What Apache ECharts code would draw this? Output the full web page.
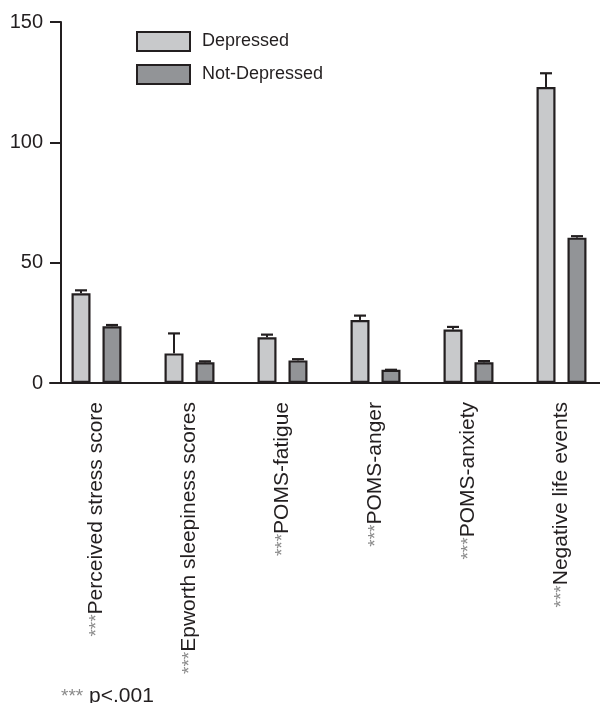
<!DOCTYPE html>
<html>
<head>
<meta charset="utf-8">
<script src="https://cdn.jsdelivr.net/npm/echarts@6/dist/echarts.min.js"></script>
<style>
html,body{margin:0;padding:0;background:#fff;}
#chart{width:600px;height:703px;}
</style>
</head>
<body>
<div id="chart"></div>
<script>
const categories = ['Perceived stress score', 'Epworth sleepiness scores', 'POMS-fatigue', 'POMS-anger', 'POMS-anxiety', 'Negative life events'];
const seriesNames = ['Depressed', 'Not-Depressed'];
const depressed = [37.3, 12.3, 19.0, 26.2, 22.2, 123.0];
const depressedErr = [1.2, 8.3, 1.1, 1.8, 1.1, 5.7];
const notDepressed = [23.6, 8.6, 9.4, 5.5, 8.6, 60.4];
const notDepressedErr = [0.5, 0.4, 0.5, 0, 0.5, 0.6];
const yMin = 0, yMax = 150, yInterval = 50;
const footnote = 'p<.001';

const FONT = '"Liberation Sans", Arial, Helvetica, sans-serif';
const INK = '#231f20';
const BAR_W = 19;
const BAR_GAP = 0.63;
const OFFSET = (BAR_W + BAR_W * BAR_GAP) / 2;

function errSeries(vals, errs, sign) {
  return {
    type: 'custom',
    z: 5,
    silent: true,
    data: vals.map((v, i) => [i, v, errs[i]]),
    encode: { x: 0, y: 1 },
    renderItem: function (params, api) {
      const i = api.value(0), v = api.value(1), e = api.value(2);
      const base = api.coord([i, v]);
      const top = api.coord([i, v + e]);
      const x = base[0] + sign * OFFSET;
      const half = 6;
      return {
        type: 'group',
        children: [
          { type: 'line', shape: { x1: x, y1: base[1], x2: x, y2: top[1] }, style: { stroke: INK, lineWidth: 2 } },
          { type: 'line', shape: { x1: x - half, y1: top[1], x2: x + half, y2: top[1] }, style: { stroke: INK, lineWidth: 2.2 } }
        ]
      };
    }
  };
}

const chart = echarts.init(document.getElementById('chart'), null, { renderer: 'canvas' });
chart.setOption({
  animation: false,
  backgroundColor: '#fff',
  textStyle: { fontFamily: FONT },
  grid: { left: 50, width: 558, top: 22, height: 361, containLabel: false, outerBoundsMode: 'none' },
  legend: {
    data: seriesNames,
    orient: 'vertical',
    icon: 'rect',
    left: 136,
    top: 31,
    itemWidth: 53,
    itemHeight: 19,
    itemGap: 12,
    padding: 0,
    textStyle: { fontSize: 18, color: INK, fontFamily: FONT, padding: [0, 0, 0, 7] },
    selectedMode: false
  },
  xAxis: {
    type: 'category',
    data: categories,
    axisLine: { lineStyle: { color: INK, width: 2 } },
    axisTick: { show: false },
    axisLabel: {
      rotate: 90,
      margin: 19,
      interval: 0,
      fontSize: 21,
      color: INK,
      fontFamily: FONT,
      formatter: function (v) { return '{s|***}' + v; },
      rich: { s: { fontSize: 19, color: '#8a8a8a', fontFamily: FONT } }
    }
  },
  yAxis: {
    type: 'value',
    min: yMin,
    max: yMax,
    interval: yInterval,
    offset: -11,
    splitLine: { show: false },
    axisLine: { show: true, lineStyle: { color: INK, width: 2 } },
    axisTick: { show: true, length: 11, lineStyle: { color: INK, width: 2 } },
    axisLabel: { fontSize: 20, color: INK, margin: 18, fontFamily: FONT }
  },
  series: [
    {
      name: seriesNames[0], type: 'bar', data: depressed, barWidth: BAR_W, barGap: (BAR_GAP * 100) + '%',
      itemStyle: { color: '#c8c9cb', borderColor: INK, borderWidth: 2.2 }
    },
    {
      name: seriesNames[1], type: 'bar', data: notDepressed, barWidth: BAR_W,
      itemStyle: { color: '#929497', borderColor: INK, borderWidth: 2.2 }
    },
    errSeries(depressed, depressedErr, -1),
    errSeries(notDepressed, notDepressedErr, 1)
  ],
  graphic: [
    {
      type: 'text',
      left: 61,
      top: 686,
      style: {
        text: '{s|***} ' + footnote,
        fontSize: 21,
        fill: INK,
        fontFamily: FONT,
        rich: { s: { fontSize: 19, fill: '#8a8a8a', fontFamily: FONT } }
      }
    }
  ]
});
</script>
</body>
</html>
